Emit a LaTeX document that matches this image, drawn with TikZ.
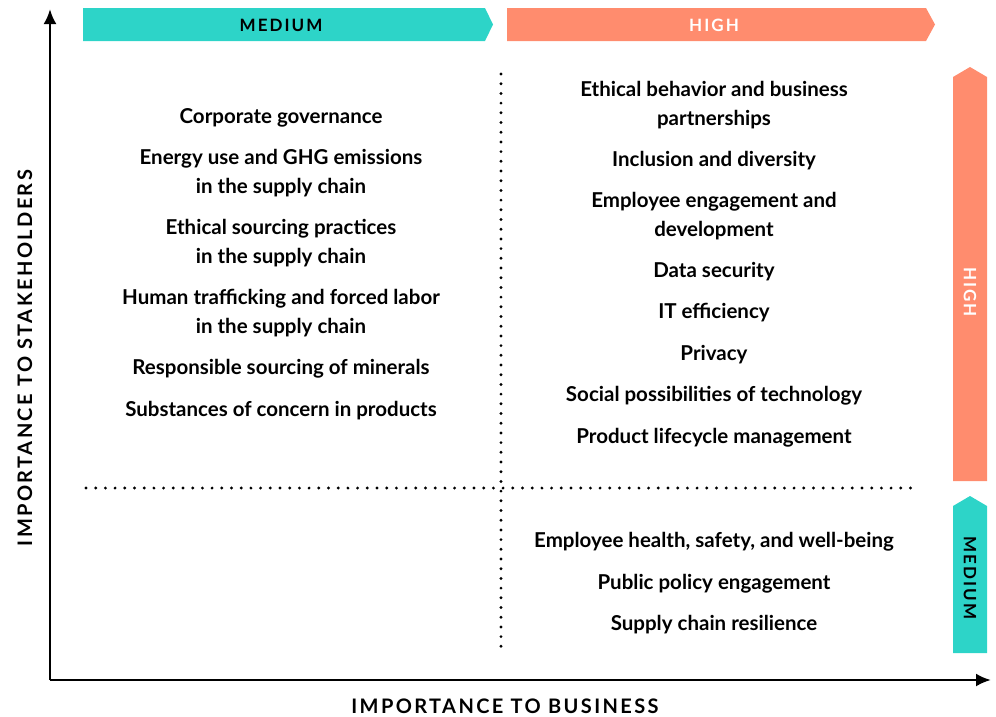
\documentclass[tikz,border=0pt]{standalone}
\usepackage{fontspec}
\setmainfont{Lato}
\usepackage{tikz}
\usetikzlibrary{arrows.meta,positioning}

\definecolor{tealbar}{HTML}{2DD4C8}
\definecolor{salmonbar}{HTML}{FF8C6E}

\begin{document}
\begin{tikzpicture}[
  x=1pt, y=-1pt,
  topic/.style={align=center, font=\fontsize{20.5}{29}\selectfont\bfseries, inner sep=0pt},
  caps/.style={font=\fontsize{17}{20}\selectfont\bfseries\addfontfeatures{LetterSpace=12}, inner sep=0pt},
  axislabel/.style={caps, font=\fontsize{20}{22}\selectfont\bfseries\addfontfeatures{LetterSpace=12}},
  axis/.style={-{Latex[length=15pt, width=13pt]}, line width=2.6pt},
  grid/.style={line width=3.2pt, dash pattern=on 0pt off 9.7pt, line cap=round}
]
\useasboundingbox (0,0) rectangle (996,716);

% banners along the top
\fill[tealbar] (83,8) -- (485,8) -- (493,24.5) -- (485,41) -- (83,41) -- cycle;
\fill[salmonbar] (507,8) -- (926,8) -- (935,24.5) -- (926,41) -- (507,41) -- cycle;
\node[caps] (topmed) at (281,25) {MEDIUM};
\node[caps, text=white] (tophigh) at (714,25) {HIGH};

% bars on the right
\fill[salmonbar] (953,481) -- (953,77) -- (970,67) -- (987,77) -- (987,481) -- cycle;
\fill[tealbar] (953,653) -- (953,506) -- (970,496) -- (987,506) -- (987,653) -- cycle;
\node[caps, text=white, rotate=-90] (sidehigh) at (970,292) {HIGH};
\node[caps, rotate=-90] (sidemed) at (970,578) {MEDIUM};

% axes
\coordinate (origin) at (50,680);
\coordinate (ytop) at (50,9);
\coordinate (xend) at (991,680);
\draw[axis] (origin) -- (ytop);
\draw[axis] (origin) -- (xend);
\node[axislabel, rotate=90] (ylabel) at (25,358) {IMPORTANCE TO STAKEHOLDERS};
\node[axislabel] (xlabel) at (505,706) {IMPORTANCE TO BUSINESS};

% quadrant dividers
\coordinate (vtop) at (501,74);
\coordinate (vbot) at (501,650);
\coordinate (hleft) at (86,488);
\coordinate (hright) at (920,488);
\draw[grid] (vtop) -- (vbot);
\draw[grid] (hleft) -- (hright);

% medium business, high stakeholders
\node[topic] (gov) at (281,118) {Corporate governance};
\node[topic] (ghg) at (281,173.5) {Energy use and GHG emissions\\in the supply chain};
\node[topic] (ethsrc) at (281,243.5) {Ethical sourcing practices\\in the supply chain};
\node[topic] (traffic) at (281,313.5) {Human trafficking and forced labor\\in the supply chain};
\node[topic] (minerals) at (281,369) {Responsible sourcing of minerals};
\node[topic] (substances) at (281,411) {Substances of concern in products};

% high business, high stakeholders
\node[topic] (ethics) at (714,105) {Ethical behavior and business\\partnerships};
\node[topic] (inclusion) at (714,161) {Inclusion and diversity};
\node[topic] (engage) at (714,216.5) {Employee engagement and\\development};
\node[topic] (datasec) at (714,272) {Data security};
\node[topic] (iteff) at (714,313) {IT efficiency};
\node[topic] (privacy) at (714,355) {Privacy};
\node[topic] (social) at (714,396) {Social possibilities of technology};
\node[topic] (lifecycle) at (714,438) {Product lifecycle management};

% high business, medium stakeholders
\node[topic] (health) at (714,542) {Employee health, safety, and well-being};
\node[topic] (policy) at (714,584) {Public policy engagement};
\node[topic] (resil) at (714,625) {Supply chain resilience};
\end{tikzpicture}
\end{document}
